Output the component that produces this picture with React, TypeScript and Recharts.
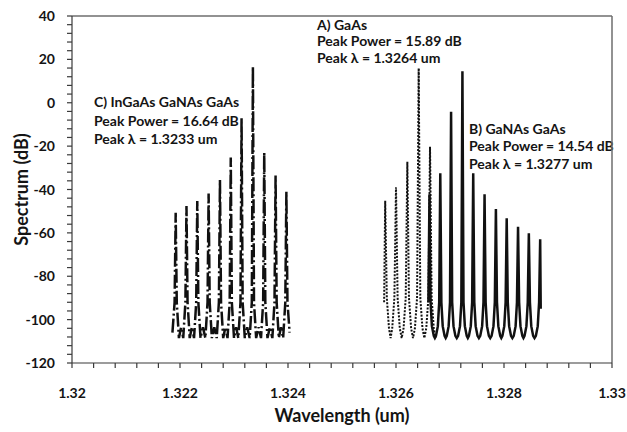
import React from 'react';
import { LineChart, Line, XAxis, YAxis, ReferenceLine, Customized } from 'recharts';

// ---- Axis ticks ----
const xMajorTicks = [1.32, 1.322, 1.324, 1.326, 1.328, 1.33];
const xMajorLabels = ['1.32', '1.322', '1.324', '1.326', '1.328', '1.33'];
const xAllTicks = [
  1.32, 1.3204, 1.3208, 1.3212, 1.3216, 1.322, 1.3224, 1.3228, 1.3232, 1.3236, 1.324,
  1.3244, 1.3248, 1.3252, 1.3256, 1.326, 1.3264, 1.3268, 1.3272, 1.3276, 1.328,
  1.3284, 1.3288, 1.3292, 1.3296, 1.33,
];
const yMajorTicks = [40, 20, 0, -20, -40, -60, -80, -100, -120];
const yMajorLabels = ['40', '20', '0', '-20', '-40', '-60', '-80', '-100', '-120'];
const yAllTicks = [
  40, 36, 32, 28, 24, 20, 16, 12, 8, 4, 0, -4, -8, -12, -16, -20, -24, -28, -32, -36, -40,
  -44, -48, -52, -56, -60, -64, -68, -72, -76, -80, -84, -88, -92, -96, -100, -104, -108,
  -112, -116, -120,
];

// ---- Series: [wavelength (um), spectrum (dB)] ----
// A) GaAs (dotted)
const gaasPoints: [number, number][] = [
  [1.32578, -92], [1.3258, -45.2], [1.32583, -90], [1.32587, -104], [1.3259, -108.5],
  [1.32593, -104], [1.32597, -90], [1.326, -39], [1.32603, -90], [1.32607, -104],
  [1.326105, -108.5], [1.32614, -104], [1.32618, -90], [1.32621, -27.2], [1.32624, -90],
  [1.32628, -104], [1.326315, -108.5], [1.32635, -104], [1.32639, -90], [1.32642, 15.89],
  [1.32645, -90], [1.32649, -104], [1.326525, -108.5], [1.32656, -104], [1.3266, -90],
  [1.32663, -20.3], [1.32666, -90], [1.3267, -104], [1.32673, -108.5],
];

// B) GaNAs GaAs (solid)
const ganasPoints: [number, number][] = [
  [1.3266, -92], [1.32662, -42.2], [1.32664, -92], [1.326665, -103], [1.3267, -107.5],
  [1.32672, -108.5], [1.32674, -107.5], [1.326775, -103], [1.3268, -92], [1.32682, -32.5],
  [1.32684, -92], [1.326865, -103], [1.3269, -107.5], [1.32692, -108.5], [1.32694, -107.5],
  [1.326975, -103], [1.327, -92], [1.32702, -4.1], [1.32704, -92], [1.327065, -103],
  [1.3271, -107.5], [1.327125, -108.5], [1.32715, -107.5], [1.327185, -103], [1.32721, -92],
  [1.32723, 14.54], [1.32725, -92], [1.327275, -103], [1.32731, -107.5], [1.32733, -108.5],
  [1.32735, -107.5], [1.327385, -103], [1.32741, -92], [1.32743, -32.5], [1.32745, -92],
  [1.327475, -103], [1.32751, -107.5], [1.327535, -108.5], [1.32756, -107.5], [1.327595, -103],
  [1.32762, -92], [1.32764, -42.2], [1.32766, -92], [1.327685, -103], [1.32772, -107.5],
  [1.327745, -108.5], [1.32777, -107.5], [1.327805, -103], [1.32783, -92], [1.32785, -49],
  [1.32787, -92], [1.327895, -103], [1.32793, -107.5], [1.32795, -108.5], [1.32797, -107.5],
  [1.328005, -103], [1.32803, -92], [1.32805, -53.3], [1.32807, -92], [1.328095, -103],
  [1.32813, -107.5], [1.328155, -108.5], [1.32818, -107.5], [1.328215, -103], [1.32824, -92],
  [1.32826, -57.2], [1.32828, -92], [1.328305, -103], [1.32834, -107.5], [1.32836, -108.5],
  [1.32838, -107.5], [1.328415, -103], [1.32844, -92], [1.32846, -60.2], [1.32848, -92],
  [1.328505, -103], [1.32854, -107.5], [1.328565, -108.5], [1.32859, -107.5], [1.328625, -103],
  [1.32865, -92], [1.32867, -63], [1.32868, -95],
];

// C) InGaAs GaNAs GaAs (dash-dot)
const ingaasPoints: [number, number][] = [
  [1.32186, -106], [1.3219, -92], [1.32192, -50.7], [1.32194, -92], [1.32198, -108.5],
  [1.32202, -103.5], [1.32206, -108.5], [1.3221, -92], [1.32212, -47.6], [1.32214, -92],
  [1.32218, -108.5], [1.32222, -103.5], [1.32226, -108.5], [1.3223, -92], [1.32232, -45.3],
  [1.32234, -92], [1.32238, -108.5], [1.322425, -103.5], [1.32247, -108.5], [1.32251, -92],
  [1.32253, -41.8], [1.32255, -92], [1.32259, -108.5], [1.322635, -103.5], [1.32268, -108.5],
  [1.32272, -92], [1.32274, -35.6], [1.32276, -92], [1.3228, -108.5], [1.32284, -103.5],
  [1.32288, -108.5], [1.32292, -92], [1.32294, -25.2], [1.32296, -92], [1.323, -108.5],
  [1.32304, -103.5], [1.32308, -108.5], [1.32312, -92], [1.32314, -7.2], [1.32316, -92],
  [1.3232, -108.5], [1.323245, -103.5], [1.32329, -108.5], [1.32333, -92], [1.32335, 16.64],
  [1.32337, -92], [1.32341, -108.5], [1.323455, -103.5], [1.3235, -108.5], [1.32354, -92],
  [1.32356, -23], [1.32358, -92], [1.32362, -108.5], [1.323665, -103.5], [1.32371, -108.5],
  [1.32375, -92], [1.32377, -33.6], [1.32379, -92], [1.32383, -108.5], [1.32387, -103.5],
  [1.32391, -108.5], [1.32395, -92], [1.32397, -41], [1.32399, -92], [1.32403, -106],
];

// ---- Annotations ----
const annA = ['A) GaAs', 'Peak Power = 15.89 dB', 'Peak \u03bb = 1.3264 um'];
const annB = ['B) GaNAs GaAs', 'Peak Power = 14.54 dB', 'Peak \u03bb = 1.3277 um'];
const annC = ['C) InGaAs GaNAs GaAs', 'Peak Power = 16.64 dB', 'Peak \u03bb = 1.3233 um'];

const toRows = (pts: [number, number][]) => pts.map(([x, y]) => ({ x, y }));
const gaasData = toRows(gaasPoints);
const ganasData = toRows(ganasPoints);
const ingaasData = toRows(ingaasPoints);

const FONT = "Lato, 'Open Sans', 'DejaVu Sans', sans-serif";
const TEXT = '#141414';

const XTick = (props: any) => {
  const { x, y, payload } = props;
  const idx = xMajorTicks.findIndex((t) => Math.abs(t - payload.value) < 1e-7);
  if (idx < 0) return <g />;
  return (
    <text x={x} y={y} dy={28} textAnchor="middle" fontFamily={FONT} fontWeight="bold" fontSize={14} fill={TEXT}>
      {xMajorLabels[idx]}
    </text>
  );
};

const YTick = (props: any) => {
  const { x, y, payload } = props;
  const idx = yMajorTicks.findIndex((t) => Math.abs(t - payload.value) < 1e-7);
  if (idx < 0) return <g />;
  return (
    <text x={x} y={y} dx={-10} dy={5} textAnchor="end" fontFamily={FONT} fontWeight="bold" fontSize={14} fill={TEXT}>
      {yMajorLabels[idx]}
    </text>
  );
};

const Block = ({ x, ys, lines }: { x: number; ys: number[]; lines: string[] }) => (
  <g>
    {lines.map((l, i) => (
      <text key={i} x={x} y={ys[i]} fontFamily={FONT} fontWeight="bold" fontSize={14} fill={TEXT}>
        {l}
      </text>
    ))}
  </g>
);

const Overlay = () => (
  <g>
    <Block x={317} ys={[29.5, 46, 63]} lines={annA} />
    <Block x={469} ys={[133.5, 151, 169]} lines={annB} />
    <Block x={94} ys={[107, 126, 143.5]} lines={annC} />
    <text x={342} y={422} textAnchor="middle" fontFamily={FONT} fontWeight="bold" fontSize={18} fill={TEXT}>
      Wavelength (um)
    </text>
    <text
      x={0}
      y={0}
      transform="translate(28,189.5) rotate(-90)"
      textAnchor="middle"
      fontFamily={FONT}
      fontWeight="bold"
      fontSize={18}
      fill={TEXT}
    >
      Spectrum (dB)
    </text>
  </g>
);

export default function App() {
  return (
    <div style={{ position: 'absolute', left: 0, top: 0, width: 627, height: 432, overflow: 'hidden' }}>
      <LineChart
        width={627}
        height={432}
        margin={{ top: 16, right: 15, left: 8, bottom: 39 }}
        style={{ overflow: 'visible' }}
      >
        <XAxis
          dataKey="x"
          type="number"
          domain={[1.32, 1.33]}
          ticks={xAllTicks}
          interval={0}
          allowDataOverflow
          height={30}
          tickSize={5}
          tick={<XTick />}
          axisLine={{ stroke: '#3a3a3a', strokeWidth: 1.2 }}
          tickLine={{ stroke: '#3a3a3a', strokeWidth: 1.2 }}
        />
        <YAxis
          type="number"
          domain={[-120, 40]}
          ticks={yAllTicks}
          interval={0}
          allowDataOverflow
          width={64}
          tickSize={5}
          tick={<YTick />}
          axisLine={{ stroke: '#3a3a3a', strokeWidth: 1.2 }}
          tickLine={{ stroke: '#3a3a3a', strokeWidth: 1.2 }}
        />
        <ReferenceLine y={40} stroke="#6e6e6e" strokeWidth={1.5} />
        <ReferenceLine x={1.33} stroke="#6e6e6e" strokeWidth={1.5} />
        <Line
          data={gaasData}
          dataKey="y"
          type="linear"
          dot={false}
          stroke="#111"
          strokeWidth={2}
          strokeDasharray="2 1.5"
          isAnimationActive={false}
        />
        <Line
          data={ingaasData}
          dataKey="y"
          type="linear"
          dot={false}
          stroke="#111"
          strokeWidth={2.5}
          strokeDasharray="14 3 2 3"
          isAnimationActive={false}
        />
        <Line
          data={ganasData}
          dataKey="y"
          type="linear"
          dot={false}
          stroke="#111"
          strokeWidth={2.5}
          isAnimationActive={false}
        />
        <Customized component={<Overlay />} />
      </LineChart>
    </div>
  );
}
